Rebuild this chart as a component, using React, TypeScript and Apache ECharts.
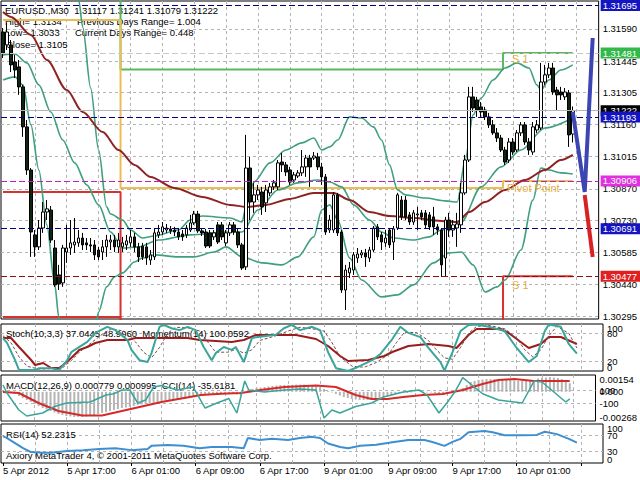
import React, { useEffect, useRef } from "react";
import * as echarts from "echarts";

const FONT = '"Liberation Sans", Arial, sans-serif';
const N_SLOTS = 150;

const timeLabels = ["5 Apr 2012", "5 Apr 17:00", "6 Apr 01:00", "6 Apr 09:00", "6 Apr 17:00", "9 Apr 01:00", "9 Apr 09:00", "9 Apr 17:00", "10 Apr 01:00"];

// EURUSD M30 candles (bar 0 = 5 Apr 09:00)
const opens = [
  1.31576, 1.31518, 1.31518, 1.31441, 1.31419, 1.31329, 1.31149, 1.30955, 1.30663, 1.30609,
  1.30694, 1.30766, 1.30775, 1.30604, 1.30483, 1.30447, 1.30586, 1.30604, 1.30618, 1.30627,
  1.30649, 1.30627, 1.30618, 1.30618, 1.30595, 1.30586, 1.30609, 1.30631, 1.3064, 1.30609,
  1.30609, 1.30618, 1.30627, 1.30654, 1.30609, 1.30613, 1.30609, 1.3055, 1.30564, 1.30663,
  1.30676, 1.30685, 1.3069, 1.30685, 1.30676, 1.30667, 1.30663, 1.30685, 1.30717, 1.30757,
  1.30681, 1.30676, 1.30672, 1.30654, 1.30708, 1.30708, 1.30627, 1.30672, 1.30708, 1.30676,
  1.30618, 1.30519, 1.30964, 1.30811, 1.30843, 1.30856, 1.30807, 1.30852, 1.30879, 1.30879,
  1.30991, 1.30978, 1.30955, 1.3091, 1.30928, 1.30942, 1.30969, 1.31009, 1.31009, 1.31014,
  1.30969, 1.30924, 1.30685, 1.30685, 1.30843, 1.30676, 1.30415, 1.30492, 1.30505, 1.30559,
  1.30573, 1.30582, 1.30559, 1.30595, 1.30699, 1.30663, 1.30627, 1.30685, 1.30631, 1.30694,
  1.3082, 1.3082, 1.30753, 1.30721, 1.30753, 1.30762, 1.30762, 1.30753, 1.30744, 1.30699,
  1.30685, 1.30559, 1.3073, 1.30685, 1.30694, 1.30708, 1.30852, 1.31, 1.31284, 1.3127,
  1.31239, 1.31225, 1.31194, 1.31158, 1.31122, 1.31099, 1.31045, 1.31, 1.31081, 1.31045,
  1.31122, 1.31158, 1.31081, 1.31036, 1.31135, 1.31144, 1.31351, 1.31383, 1.31414, 1.31315,
  1.31306, 1.31284, 1.31302, 1.31117,
];
const closes = [
  1.31482, 1.31576, 1.31428, 1.31405, 1.31329, 1.31149, 1.30955, 1.30676, 1.30609, 1.30694,
  1.30766, 1.3078, 1.3064, 1.30438, 1.30442, 1.30604, 1.30604, 1.30627, 1.30631, 1.30649,
  1.30618, 1.30618, 1.30613, 1.30573, 1.30564, 1.30609, 1.3064, 1.3064, 1.30609, 1.3064,
  1.30627, 1.30636, 1.30654, 1.30609, 1.30564, 1.30564, 1.30559, 1.30573, 1.30672, 1.30676,
  1.30699, 1.30694, 1.30681, 1.30676, 1.30654, 1.30654, 1.30694, 1.30717, 1.30757, 1.30681,
  1.30672, 1.30613, 1.30613, 1.30672, 1.30631, 1.30654, 1.30672, 1.30708, 1.30676, 1.30618,
  1.30514, 1.30964, 1.30811, 1.30843, 1.30865, 1.30789, 1.30865, 1.30879, 1.30897, 1.30987,
  1.30978, 1.30946, 1.30901, 1.30933, 1.30942, 1.30969, 1.31009, 1.30969, 1.31018, 1.30969,
  1.30924, 1.30676, 1.3073, 1.30843, 1.30672, 1.30415, 1.30505, 1.30514, 1.30573, 1.30577,
  1.30582, 1.30564, 1.30595, 1.30694, 1.30654, 1.30631, 1.30649, 1.30618, 1.3069, 1.30843,
  1.30744, 1.30744, 1.30721, 1.30762, 1.30757, 1.30744, 1.30708, 1.30699, 1.30699, 1.30685,
  1.30528, 1.3073, 1.30685, 1.30708, 1.30712, 1.30852, 1.31, 1.31284, 1.31234, 1.31225,
  1.31216, 1.31194, 1.31158, 1.31122, 1.31099, 1.31045, 1.30991, 1.31081, 1.31036, 1.31122,
  1.31158, 1.31081, 1.31045, 1.31149, 1.31158, 1.31351, 1.31383, 1.31414, 1.31306, 1.31293,
  1.31293, 1.31306, 1.31113, 1.31222,
];
const highs = [
  1.31594, 1.31617, 1.3154, 1.31473, 1.3145, 1.31338, 1.3118, 1.30964, 1.30685, 1.3073,
  1.30811, 1.3082, 1.30793, 1.3064, 1.30528, 1.30618, 1.30708, 1.3073, 1.30739, 1.30685,
  1.30672, 1.30649, 1.30649, 1.3064, 1.30609, 1.3064, 1.30663, 1.30663, 1.30663, 1.30672,
  1.30654, 1.30663, 1.30685, 1.30672, 1.30627, 1.30627, 1.30627, 1.30595, 1.30694, 1.30708,
  1.30721, 1.30712, 1.30703, 1.30699, 1.30694, 1.30685, 1.30708, 1.30753, 1.30771, 1.30771,
  1.30694, 1.3069, 1.30685, 1.30685, 1.30721, 1.30721, 1.30685, 1.30721, 1.30721, 1.3069,
  1.30627, 1.31113, 1.31014, 1.30897, 1.30888, 1.30879, 1.30888, 1.30897, 1.3091, 1.31,
  1.31032, 1.30991, 1.30969, 1.30946, 1.30955, 1.31045, 1.31023, 1.31023, 1.31036, 1.31032,
  1.30987, 1.30937, 1.30753, 1.30856, 1.30852, 1.30685, 1.30528, 1.30541, 1.30586, 1.30604,
  1.30595, 1.306, 1.30609, 1.30703, 1.30712, 1.30676, 1.30685, 1.30694, 1.30703, 1.30852,
  1.30838, 1.30838, 1.30766, 1.30775, 1.30789, 1.30775, 1.30775, 1.30766, 1.30789, 1.30712,
  1.30694, 1.30744, 1.30762, 1.3073, 1.30762, 1.30897, 1.31023, 1.31329, 1.31329, 1.31284,
  1.31261, 1.31239, 1.31212, 1.3118, 1.31144, 1.31113, 1.31059, 1.31099, 1.31099, 1.31135,
  1.31171, 1.31171, 1.31099, 1.31171, 1.3118, 1.31437, 1.31428, 1.31437, 1.31437, 1.31329,
  1.31329, 1.31324, 1.31315, 1.31241,
];
const lows = [
  1.31459, 1.31495, 1.31396, 1.31369, 1.31293, 1.31104, 1.30933, 1.30564, 1.30564, 1.30595,
  1.30672, 1.3073, 1.30627, 1.30429, 1.30415, 1.30429, 1.30537, 1.30573, 1.30582, 1.30609,
  1.30595, 1.30595, 1.30586, 1.3055, 1.3055, 1.3055, 1.30564, 1.30595, 1.30586, 1.30582,
  1.30586, 1.30595, 1.30609, 1.30586, 1.30541, 1.3055, 1.30528, 1.30528, 1.3055, 1.30649,
  1.30663, 1.30672, 1.30667, 1.30658, 1.3064, 1.30636, 1.30649, 1.30676, 1.30708, 1.30672,
  1.30658, 1.30604, 1.30604, 1.3064, 1.30622, 1.3064, 1.30613, 1.30658, 1.30663, 1.30604,
  1.30505, 1.30505, 1.3073, 1.30762, 1.3082, 1.30753, 1.30766, 1.30838, 1.30865, 1.30865,
  1.30946, 1.30928, 1.30888, 1.30897, 1.30919, 1.30928, 1.30924, 1.30879, 1.31, 1.30955,
  1.30888, 1.30663, 1.30672, 1.30672, 1.30658, 1.30402, 1.30325, 1.30469, 1.30483, 1.30537,
  1.30559, 1.30519, 1.30541, 1.30586, 1.3064, 1.30595, 1.30609, 1.30604, 1.3055, 1.30685,
  1.3073, 1.3073, 1.30708, 1.30708, 1.30685, 1.3073, 1.30694, 1.30685, 1.30663, 1.30663,
  1.30474, 1.30474, 1.30654, 1.30654, 1.30609, 1.30672, 1.30843, 1.30991, 1.31216, 1.31194,
  1.31194, 1.3118, 1.31144, 1.31113, 1.31081, 1.31036, 1.30978, 1.30987, 1.31023, 1.31036,
  1.31108, 1.31068, 1.31023, 1.31023, 1.31122, 1.31135, 1.31338, 1.31369, 1.31293, 1.31225,
  1.3127, 1.3127, 1.31059, 1.31079,
];

// Bollinger bands and moving average, read as [bar, price]
const bbUpper = [[18, 1.31855], [19, 1.3172], [20, 1.31599], [22, 1.31324], [24, 1.31045], [26, 1.30789], [27, 1.30757], [30, 1.3073], [32, 1.30685], [35, 1.30649], [38, 1.30658], [44, 1.30685], [47, 1.3073], [50, 1.30748], [57, 1.30739], [60, 1.30721], [61, 1.30789], [63, 1.30901], [67, 1.30987], [71, 1.31045], [75, 1.31077], [78, 1.31099], [80, 1.31045], [82, 1.31059], [84, 1.3109], [87, 1.31194], [90, 1.31189], [93, 1.31149], [95, 1.3109], [97, 1.30978], [99, 1.30865], [101, 1.30843], [106, 1.30829], [111, 1.30816], [114, 1.30811], [116, 1.31], [118, 1.31203], [120, 1.31279], [123, 1.3136], [126, 1.31414], [129, 1.31437], [132, 1.31414], [134, 1.31338], [135, 1.31315], [137, 1.3136], [140, 1.31405], [143, 1.31428]];
const bbMiddle = [[0, 1.31473], [3, 1.31477], [6, 1.31437], [9, 1.31338], [12, 1.31216], [15, 1.3109], [18, 1.30987], [21, 1.30888], [24, 1.30798], [27, 1.30676], [30, 1.30604], [34, 1.30609], [39, 1.3064], [47, 1.30663], [56, 1.30676], [60, 1.30676], [64, 1.30775], [69, 1.30865], [74, 1.30897], [79, 1.3091], [82, 1.30901], [85, 1.30879], [88, 1.30798], [92, 1.3073], [95, 1.30676], [98, 1.30649], [103, 1.3064], [107, 1.30654], [110, 1.30685], [113, 1.30699], [115, 1.30721], [120, 1.30879], [125, 1.30969], [130, 1.31045], [136, 1.31144], [143, 1.31189]];
const bbLower = [[0, 1.3136], [3, 1.31374], [5, 1.31338], [7, 1.31158], [9, 1.30955], [11, 1.30708], [13, 1.30438], [14, 1.30294], [15, 1.30168], [19, 1.29988], [23, 1.30235], [24, 1.30316], [26, 1.30429], [28, 1.30474], [30, 1.30492], [33, 1.30541], [35, 1.30559], [38, 1.30573], [44, 1.30564], [48, 1.30564], [53, 1.30586], [56, 1.30609], [60, 1.30564], [65, 1.30537], [70, 1.30528], [74, 1.30564], [78, 1.30654], [80, 1.30775], [82, 1.30798], [84, 1.3073], [87, 1.30559], [90, 1.3046], [95, 1.30384], [99, 1.30393], [103, 1.30438], [108, 1.30537], [112, 1.30582], [115, 1.30586], [118, 1.30528], [121, 1.30406], [124, 1.30429], [126, 1.3046], [130, 1.30595], [133, 1.3082], [135, 1.30964], [137, 1.30955], [140, 1.30942], [143, 1.30937]];
const maLine = [[0, 1.31666], [2, 1.31644], [7, 1.31563], [11, 1.3145], [16, 1.31315], [20, 1.31216], [25, 1.31126], [29, 1.31045], [33, 1.30978], [37, 1.30924], [43, 1.30874], [50, 1.30834], [57, 1.30798], [61, 1.30789], [66, 1.30798], [72, 1.30825], [78, 1.30852], [83, 1.30852], [87, 1.3082], [92, 1.30766], [97, 1.30748], [103, 1.30739], [110, 1.30726], [114, 1.30721], [117, 1.30766], [121, 1.30811], [126, 1.30865], [131, 1.3091], [136, 1.30955], [140, 1.31], [143, 1.31023]];

// daily pivot levels (day boundaries at bar 30 = 6 Apr, bar 126 = 10 Apr)
const dayStarts = [0, 30, 126];
const pivotLevels = [1.3163, 1.30874, 1.30906];
const r1Levels = [1.3195, 1.31407, 1.31481];
const s1Levels = [1.30856, 1.3005, 1.30477];
const s2Levels = [1.30294, 1.2985, 1.29902];

const priceTicks = [1.30295, 1.3044, 1.30585, 1.3073, 1.3087, 1.31015, 1.3116, 1.31305, 1.31445, 1.3159];
const levelValues = [1.31695, 1.31481, 1.31222, 1.31193, 1.30906, 1.30691, 1.30477];
const levelLineColors = ["#000080", "#c8c8c8", "#b4b4b4", "#000080", "#c020c0", "#000080", "#8b1010"];
const levelLabelColors = ["#1414c0", "#33b84a", "#000000", "#1414c0", "#e030e0", "#1414c0", "#e02020"];

const forecastUp = [[143, 1.31216], [146, 1.30856], [148, 1.31549]];
const forecastDown = [[146, 1.30843], [148, 1.30564]];

// Stochastic / Momentum
const stochLevels = [20, 80];
const stochEdges = [0, 100];
const stochMain = [[0, 70], [1, 60], [3, 23], [4, 2], [8, 2], [9, 6], [12, 6], [14, 2], [16, 23], [17, 40], [21, 62], [23, 81], [26, 94], [28, 87], [31, 66], [32, 45], [34, 23], [36, 19], [37, 38], [39, 94], [40, 98], [42, 91], [44, 87], [46, 94], [48, 87], [50, 51], [52, 23], [53, 38], [55, 51], [57, 45], [58, 51], [60, 19], [62, 70], [63, 72], [68, 77], [70, 91], [72, 98], [74, 87], [77, 94], [79, 87], [81, 40], [83, 6], [86, 0], [89, 11], [92, 23], [94, 36], [97, 68], [99, 94], [101, 81], [104, 72], [106, 49], [109, 19], [110, 1], [112, 40], [114, 85], [116, 98], [118, 99], [121, 94], [125, 85], [128, 49], [131, 19], [133, 32], [135, 85], [136, 99], [139, 94], [141, 57], [143, 37.0445]];
const stochSignal = [[0, 75], [2, 60], [4, 30], [6, 10], [9, 4], [12, 5], [15, 8], [17, 22], [19, 40], [22, 60], [25, 80], [27, 90], [30, 85], [33, 62], [35, 40], [37, 28], [39, 50], [41, 80], [43, 93], [46, 92], [49, 85], [51, 62], [53, 40], [56, 40], [58, 46], [60, 38], [62, 45], [64, 65], [68, 75], [71, 85], [74, 93], [77, 90], [80, 85], [82, 60], [84, 30], [87, 10], [90, 8], [93, 18], [96, 35], [98, 60], [100, 82], [103, 82], [106, 65], [108, 45], [110, 28], [112, 25], [114, 50], [116, 80], [118, 95], [121, 97], [125, 90], [128, 70], [130, 45], [132, 30], [134, 45], [136, 75], [138, 95], [141, 80], [143, 48.996]];
const momentum = [[0, 100.179], [2, 100.179], [4, 99.999], [7, 99.739], [8, 99.639], [10, 99.679], [12, 99.579], [14, 99.579], [15, 99.639], [17, 99.779], [19, 99.939], [21, 99.999], [23, 100.079], [26, 100.139], [31, 100.139], [33, 100.179], [41, 100.179], [46, 100.179], [49, 100.139], [53, 100.119], [57, 100.099], [60, 100.139], [63, 100.239], [67, 100.239], [73, 100.239], [78, 100.159], [81, 100.019], [84, 99.819], [86, 99.719], [91, 99.739], [95, 99.819], [97, 99.899], [101, 100.019], [106, 100.059], [111, 100.019], [113, 99.979], [116, 100.239], [118, 100.359], [124, 100.359], [126, 100.279], [129, 100.099], [131, 99.979], [134, 100.059], [136, 100.199], [139, 100.199], [143, 100.0592]];

// MACD / CCI
const macdHist = [
  0.00007, -0.00002, -0.00011, -0.0002, -0.00039, -0.00057, -0.00075, -0.00094, -0.00112, -0.0013,
  -0.00149, -0.00162, -0.00176, -0.0019, -0.00204, -0.00213, -0.00222, -0.00226, -0.00231, -0.00231,
  -0.00231, -0.00226, -0.00222, -0.00213, -0.00204, -0.00194, -0.00185, -0.00176, -0.00167, -0.00158,
  -0.00149, -0.00144, -0.00139, -0.0013, -0.00121, -0.00116, -0.00112, -0.00107, -0.00103, -0.00094,
  -0.00084, -0.0008, -0.00075, -0.00071, -0.00066, -0.00061, -0.00057, -0.00048, -0.00039, -0.00034,
  -0.00029, -0.00025, -0.0002, -0.00018, -0.0002, -0.00022, -0.0002, -0.00018, -0.0002, -0.00025,
  -0.00034, -0.00002, 0.00017, 0.00026, 0.00035, 0.00039, 0.00044, 0.00049, 0.00053, 0.00058,
  0.00062, 0.00063, 0.00062, 0.00064, 0.00066, 0.00066, 0.00067, 0.00062, 0.00053, 0.00049,
  0.00044, 0.00026, 0.00007, -0.00006, -0.0002, -0.00034, -0.00048, -0.00057, -0.00066, -0.00071,
  -0.00075, -0.00075, -0.00075, -0.00071, -0.00066, -0.00057, -0.00048, -0.00039, -0.00029, -0.0002,
  -0.00011, -0.00011, -0.00011, -0.00006, -0.00002, -0.00002, -0.00002, -0.00006, -0.00006, -0.00011,
  -0.0002, -0.0002, -0.00016, -0.00011, -0.00002, 0.00012, 0.00035, 0.00062, 0.0009, 0.00099,
  0.00108, 0.00113, 0.00117, 0.00117, 0.00117, 0.00117, 0.00113, 0.00108, 0.00108, 0.00103,
  0.00099, 0.00099, 0.00099, 0.00103, 0.00108, 0.00122, 0.00127, 0.00131, 0.00135, 0.00131,
  0.00127, 0.00117, 0.00099, 0.000779,
];
const macdSignal = [[0, -0.00002], [4, -0.00011], [9, -0.00103], [14, -0.00176], [20, -0.00217], [25, -0.00217], [30, -0.00176], [35, -0.00135], [40, -0.00094], [45, -0.00061], [50, -0.00029], [55, -0.00017], [60, -0.00011], [65, 0.00017], [71, 0.00044], [79, 0.00057], [84, 0.00044], [89, -0.00029], [93, -0.00066], [97, -0.00066], [101, -0.00048], [106, -0.00029], [111, -0.0002], [116, 0.00017], [121, 0.00071], [125, 0.00108], [129, 0.00117], [134, 0.00099], [143, 0.000995]];
const cci = [[0, 177], [1, 54], [4, -208], [6, -300], [10, -254], [13, -154], [16, -100], [22, -85], [26, 23], [28, 43], [30, 100], [32, 100], [34, -100], [36, -54], [38, 146], [40, 168], [44, 100], [48, 146], [51, -177], [54, -100], [57, -31], [59, -254], [61, 238], [62, 100], [66, 69], [71, 100], [75, 115], [79, 100], [81, -331], [83, -208], [85, -254], [89, -154], [93, -100], [96, -8], [101, 69], [105, 100], [107, 23], [110, -254], [112, -100], [114, 69], [116, 291], [118, 192], [121, 43], [125, -54], [129, -85], [131, -100], [134, 238], [136, 223], [139, 69], [142, -85], [143, -35.6181]];

// RSI
const rsiLevels = [30, 70];
const rsiEdges = [0, 100];
const rsi = [[0, 69], [1, 64], [3, 51], [5, 38], [7, 28], [10, 26], [12, 26], [16, 31], [20, 33], [24, 36], [28, 38], [32, 33], [36, 36], [37, 44], [41, 46], [45, 44], [49, 38], [52, 41], [57, 41], [60, 38], [61, 64], [64, 59], [67, 62], [71, 59], [74, 64], [77, 67], [79, 64], [81, 50], [84, 41], [86, 38], [89, 44], [93, 47], [97, 53], [101, 59], [105, 59], [107, 54], [110, 44], [112, 54], [114, 62], [116, 79], [120, 82], [122, 79], [125, 71], [129, 71], [133, 72], [135, 80], [138, 74], [141, 62], [143, 52.2315]];

const textRows = [
  { text: "EURUSD.,M30  1.31117 1.31241 1.31079 1.31222", x: 5, y: 10 },
  { text: "High= 1.3134", x: 5, y: 21 },
  { text: "Previous Days Range= 1.004", x: 77, y: 21 },
  { text: "Low= 1.3033", x: 5, y: 32 },
  { text: "Current Days Range= 0.448", x: 75, y: 32 },
  { text: "Close= 1.3105", x: 6, y: 44 },
  { text: "Stoch(10,3,3) 37.0445 48.9960  Momentum(14) 100.0592", x: 6, y: 333 },
  { text: "MACD(12,26,9) 0.000779 0.000995  CCI(14) -35.6181", x: 6, y: 385 },
  { text: "RSI(14) 52.2315", x: 6, y: 434 },
  { text: "Axiory MetaTrader 4, \u00a9 2001-2011 MetaQuotes Software Corp.", x: 6, y: 455 },
];
const pivotTexts = [
  { text: "S 1", x: 512, y: 59 },
  { text: "Pivot Point", x: 507, y: 188 },
  { text: "S 1", x: 512, y: 285 },
];

function dayLevelSeries(levels: number[]) {
  return opens.map((_, i) => {
    let d = 0;
    for (let k = 0; k < dayStarts.length; k++) if (i >= dayStarts[k]) d = k;
    return levels[d];
  });
}

function buildOption(): any {
  const cats = Array.from({ length: N_SLOTS }, (_, i) => String(i));
  const gridLineX: number[] = [];
  for (let v = 8; v < N_SLOTS; v += 8) gridLineX.push(v);
  const dash = { color: "#b4b4b4", type: [3, 3] as number[], width: 1 };
  const grids = [
    { left: 1, top: 1, width: 602, height: 318 },
    { left: 1, top: 324, width: 602, height: 47 },
    { left: 1, top: 375, width: 602, height: 46 },
    { left: 1, top: 424, width: 602, height: 39 },
  ].map((g) => ({ ...g, show: true, borderColor: "#000", borderWidth: 1, backgroundColor: "transparent", containLabel: false }));

  const catAxes = grids.map((_, k) => ({
    type: "category",
    gridIndex: k,
    data: cats,
    boundaryGap: true,
    show: k === 3,
    axisLine: { show: false },
    axisTick: { show: k === 3, interval: 15, alignWithLabel: true, length: 3, lineStyle: { color: "#000" } },
    axisLabel: {
      show: k === 3,
      interval: 15,
      align: "left",
      margin: 2,
      fontSize: 9.5,
      fontFamily: FONT,
      color: "#000",
      formatter: (_v: string, idx: number) => timeLabels[idx / 16] || "",
    },
    splitLine: { show: false },
  }));
  const gridXAxes = grids.map((_, k) => ({
    type: "value",
    gridIndex: k,
    min: -0.5,
    max: N_SLOTS - 0.5,
    axisLine: { show: false },
    axisTick: { show: false, customValues: gridLineX },
    axisLabel: { show: false, customValues: gridLineX },
    splitLine: { show: true, lineStyle: dash },
  }));

  const lblBase = { fontSize: 9.5, fontFamily: FONT, color: "#000" };
  const rich = {
    t: { ...lblBase, padding: [8, 0, 0, 0] },
    b: { ...lblBase, padding: [0, 0, 8, 0] },
  };
  const edgeLabels = { showMinLabel: true, showMaxLabel: true, hideOverlap: false };
  const edgeFormatter = (top: string, bottom: string) => (v: number) => (v > 0 ? `{t|${top}}` : `{b|${bottom}}`);

  const yAxes = [
    // 0 price
    {
      type: "value", gridIndex: 0, position: "right", min: 1.302845, max: 1.317155,
      axisLine: { show: false },
      axisTick: { show: false, customValues: priceTicks },
      axisLabel: { ...lblBase, ...edgeLabels, margin: 4, customValues: priceTicks, formatter: (v: number) => v.toFixed(5) },
      splitLine: { show: true, lineStyle: dash },
    },
    // 1 stoch levels
    {
      type: "value", gridIndex: 1, position: "right", min: 0, max: 100,
      axisLine: { show: false },
      axisTick: { show: false, customValues: stochLevels },
      axisLabel: { ...lblBase, ...edgeLabels, margin: 4, customValues: stochLevels, formatter: (v: number) => String(v) },
      splitLine: { show: true, lineStyle: dash },
    },
    // 2 momentum
    {
      type: "value", gridIndex: 1, position: "right", min: 99.519, max: 100.459, show: false,
      splitLine: { show: false },
    },
    // 3 macd
    {
      type: "value", gridIndex: 2, position: "right", min: -0.00268, max: 0.00154,
      axisLine: { show: false },
      axisTick: { show: false, customValues: [-0.00268, 0, 0.00154] },
      axisLabel: { ...lblBase, ...edgeLabels, margin: 4, customValues: [-0.00268, 0, 0.00154], rich,
        formatter: (v: number) => (v > 0.001 ? "{t|0.00154}" : v < -0.002 ? "{b|-0.00268}" : "0.000") },
      splitLine: { show: false },
    },
    // 4 cci
    {
      type: "value", gridIndex: 2, position: "right", min: -377, max: 331,
      axisLine: { show: false },
      axisTick: { show: false, customValues: [-100, 100] },
      axisLabel: { ...lblBase, ...edgeLabels, margin: 4, customValues: [-100, 100], formatter: (v: number) => String(v) },
      splitLine: { show: true, lineStyle: dash },
    },
    // 5 rsi levels
    {
      type: "value", gridIndex: 3, position: "right", min: 0, max: 100,
      axisLine: { show: false },
      axisTick: { show: false, customValues: rsiLevels },
      axisLabel: { ...lblBase, ...edgeLabels, margin: 4, customValues: rsiLevels, formatter: (v: number) => String(v) },
      splitLine: { show: true, lineStyle: dash },
    },
    // 6 stoch edges
    {
      type: "value", gridIndex: 1, position: "right", min: 0, max: 100,
      axisLine: { show: false },
      axisTick: { show: false, customValues: stochEdges },
      axisLabel: { ...lblBase, ...edgeLabels, margin: 4, customValues: stochEdges, rich, formatter: edgeFormatter("100", "0") },
      splitLine: { show: false },
    },
    // 7 rsi edges
    {
      type: "value", gridIndex: 3, position: "right", min: 0, max: 100,
      axisLine: { show: false },
      axisTick: { show: false, customValues: rsiEdges },
      axisLabel: { ...lblBase, ...edgeLabels, margin: 4, customValues: rsiEdges, rich, formatter: edgeFormatter("100", "0") },
      splitLine: { show: false },
    },
  ];

  const line = (data: any, color: string, width: number, xi: number, yi: number, extra: any = {}) => ({
    type: "line",
    data,
    xAxisIndex: xi,
    yAxisIndex: yi,
    symbol: "none",
    lineStyle: { color, width },
    silent: true,
    z: 3,
    ...extra,
  });

  const bbColor = "#3f9f7f";
  const series: any[] = [
    line(dayLevelSeries(s2Levels), "#d93030", 2, 0, 0, { step: "middle" }),
    line(dayLevelSeries(s1Levels), "#d93030", 2, 0, 0, { step: "middle" }),
    line(dayLevelSeries(r1Levels), "#5cb85c", 2, 0, 0, { step: "middle" }),
    line(dayLevelSeries(pivotLevels), "#ebbd55", 2, 0, 0, { step: "middle" }),
    line(bbUpper, bbColor, 1.6, 0, 0, { smooth: 0.3, smoothMonotone: "x" }),
    line(bbMiddle, bbColor, 1.6, 0, 0, { smooth: 0.3, smoothMonotone: "x" }),
    line(bbLower, bbColor, 1.6, 0, 0, { smooth: 0.3, smoothMonotone: "x" }),
    line(maLine, "#8e2323", 2, 0, 0, { smooth: 0.3, smoothMonotone: "x" }),
    {
      type: "candlestick",
      xAxisIndex: 0,
      yAxisIndex: 0,
      barWidth: 3,
      z: 4,
      silent: true,
      data: opens.map((o, i) => [o, closes[i], lows[i], highs[i]]),
      itemStyle: { color: "#ffffff", color0: "#112411", borderColor: "#000000", borderColor0: "#000000", borderWidth: 1 },
      markLine: {
        silent: true,
        symbol: ["none", "none"],
        precision: 5,
        label: {
          show: true, position: "end", distance: 2, color: "#fff", fontSize: 9.5, fontFamily: FONT,
          padding: [1, 4, 0, 2],
          formatter: (p: any) => Number(p.value).toFixed(5),
        },
        data: levelValues.map((v, k) => ({
          yAxis: v,
          lineStyle: { color: levelLineColors[k], width: 1, type: k === 2 ? "solid" : [6, 3] },
          label: { backgroundColor: levelLabelColors[k] },
        })),
      },
    },
    {
      ...line(forecastUp.map((p, k) => (k === forecastUp.length - 1 ? { value: p, symbol: "arrow", symbolSize: [11, 22], symbolRotate: -3 } : { value: p })), "#3b46b4", 4, 0, 0),
      showSymbol: true,
      itemStyle: { color: "#3b46b4" },
      z: 6,
    },
    {
      ...line(forecastDown.map((p, k) => (k === forecastDown.length - 1 ? { value: p, symbol: "arrow", symbolSize: [11, 22], symbolRotate: 187 } : { value: p })), "#d82222", 4, 0, 0),
      showSymbol: true,
      itemStyle: { color: "#d82222" },
      z: 6,
    },
    line(momentum, "#9b1c1c", 2, 1, 2),
    line(stochSignal, "#7a4a4a", 1, 1, 1, { lineStyle: { color: "#7a4a4a", width: 1, type: [3, 2] } }),
    line(stochMain, "#3aa59a", 2, 1, 1),
    {
      type: "bar",
      xAxisIndex: 2,
      yAxisIndex: 3,
      data: macdHist,
      barWidth: 2,
      silent: true,
      itemStyle: { color: "#b4b4b4" },
      z: 2,
    },
    line(macdSignal, "#d42a2a", 2, 2, 3),
    line(cci, "#3aa59a", 1.5, 2, 4),
    line(rsi, "#3d8fd1", 2, 3, 5),
  ];

  const graphic = [
    ...textRows.map((r) => ({
      type: "text", x: r.x, y: r.y, silent: true, z: 1,
      style: { text: r.text, fill: "#000", fontSize: 9.5, fontFamily: FONT, verticalAlign: "middle", align: "left" },
    })),
    ...pivotTexts.map((r) => ({
      type: "text", x: r.x, y: r.y, silent: true, z: 10,
      style: { text: r.text, fill: "#e2ae45", fontSize: 11, fontFamily: FONT, verticalAlign: "middle", align: "left" },
    })),
  ];

  return {
    animation: false,
    backgroundColor: "#ffffff",
    grid: grids,
    xAxis: [...catAxes, ...gridXAxes],
    yAxis: yAxes,
    series,
    graphic,
  };
}

export default function App() {
  const ref = useRef<HTMLDivElement>(null);
  useEffect(() => {
    if (!ref.current) return;
    const chart = echarts.init(ref.current, null, { renderer: "svg" });
    chart.setOption(buildOption());
    return () => chart.dispose();
  }, []);
  return (
    <div
      ref={ref}
      style={{ position: "fixed", left: 0, top: 0, width: 640, height: 480, background: "#fff" }}
    />
  );
}
